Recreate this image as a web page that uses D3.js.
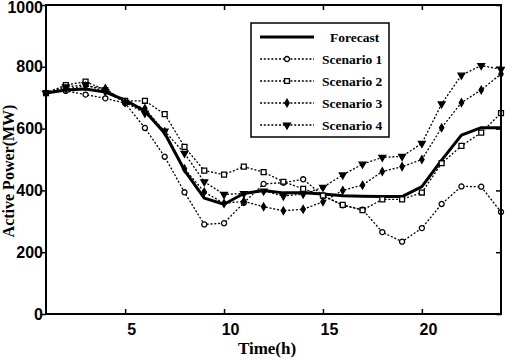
<!DOCTYPE html>
<html>
<head>
<meta charset="utf-8">
<script src="https://cdn.jsdelivr.net/npm/d3@7"></script>
<style>
  body { margin: 0; background: #fff; }
  svg { display: block; font-family: "Liberation Serif", "Times New Roman", serif; }
</style>
</head>
<body>
<svg width="505" height="360"></svg>
<script>
// ---- Data (hours 1..24, active power in MW)
const hours = d3.range(1, 25);
const forecast  = [715, 725, 728, 718, 692, 657, 585, 465, 375, 355, 390, 400, 392, 392, 388, 383, 381, 380, 380, 412, 498, 579, 603, 603];
const scenario1 = [715, 722, 710, 698, 682, 602, 509, 394, 290, 294, 360, 421, 425, 436, 383, 352, 338, 265, 234, 278, 356, 413, 412, 330];
const scenario2 = [715, 741, 752, 725, 690, 690, 647, 541, 464, 451, 477, 459, 428, 405, 383, 353, 336, 371, 371, 393, 488, 544, 587, 650];
const scenario3 = [715, 728, 738, 730, 685, 665, 590, 470, 395, 358, 365, 347, 334, 339, 363, 400, 417, 461, 477, 500, 603, 684, 725, 777];
const scenario4 = [715, 735, 742, 720, 685, 650, 592, 520, 428, 387, 390, 398, 382, 388, 410, 450, 485, 507, 510, 552, 680, 773, 804, 792];
const xTicks = [5, 10, 15, 20];
const yTicks = [0, 200, 400, 600, 800, 1000];
const seriesNames = ['Forecast', 'Scenario 1', 'Scenario 2', 'Scenario 3', 'Scenario 4'];

const svg = d3.select('svg');
const margens = { left: 46, right: 4, top: 5, bottom: 46 };
const width = +svg.attr('width');
const height = +svg.attr('height');

// ---- Escalas
const x = d3.scaleLinear().domain([1, 24]).range([margens.left, width - margens.right]);
const y = d3.scaleLinear().domain([0, 1000]).range([height - margens.bottom, margens.top]);

// ---- Series config
const scenarios = [
  { name: seriesNames[1], values: scenario1, symbol: d3.symbolCircle, size: 20, fill: '#fff', rot: 0 },
  { name: seriesNames[2], values: scenario2, symbol: d3.symbolSquare, size: 24, fill: '#fff', rot: 0 },
  { name: seriesNames[3], values: scenario3, symbol: d3.symbolDiamond, size: 16, fill: '#000', rot: 0 },
  { name: seriesNames[4], values: scenario4, symbol: d3.symbolTriangle, size: 20, fill: '#000', rot: 180 }
];

const line = d3.line()
  .x((d, i) => x(hours[i]))
  .y(d => y(d));

// ---- Scenario lines
scenarios.forEach(s => {
  svg.append('path')
    .datum(s.values)
    .attr('d', line)
    .attr('fill', 'none')
    .attr('stroke', '#000')
    .attr('stroke-width', 1.3)
    .attr('stroke-dasharray', '2,1.8');
});

// ---- Forecast
svg.append('path')
  .datum(forecast)
  .attr('d', line)
  .attr('fill', 'none')
  .attr('stroke', '#000')
  .attr('stroke-width', 3)
  .attr('stroke-linejoin', 'round');

// ---- Markers
scenarios.forEach(s => {
  svg.append('g')
    .selectAll('path')
    .data(s.values)
    .enter()
    .append('path')
    .attr('d', d3.symbol().type(s.symbol).size(s.size))
    .attr('transform', (d, i) => `translate(${x(hours[i])},${y(d)}) rotate(${s.rot})`)
    .attr('fill', s.fill)
    .attr('stroke', '#000')
    .attr('stroke-width', 1.3);
});

// ---- Eixos (box with ticks)
const tickStyle = g => {
  g.select('.domain').remove();
  g.selectAll('line').attr('stroke', '#000').attr('stroke-width', 1.5);
};

svg.append('g')
  .attr('transform', `translate(0,${y(0)})`)
  .call(d3.axisBottom(x).tickValues(xTicks).tickSize(-5).tickPadding(10).tickFormat(d3.format('d')))
  .call(tickStyle)
  .call(g => g.selectAll('text').attr('dx', 6).style('font-size', '16px').style('font-weight', 'bold').attr('fill', '#000'));

svg.append('g')
  .attr('transform', `translate(0,${y(1000)})`)
  .call(d3.axisTop(x).tickValues(xTicks).tickSize(-5).tickFormat(''))
  .call(tickStyle);

svg.append('g')
  .attr('transform', `translate(${x(1)},0)`)
  .call(d3.axisLeft(y).tickValues(yTicks).tickSize(4).tickPadding(-1).tickFormat(d3.format('d')))
  .call(tickStyle)
  .call(g => g.selectAll('text').style('font-size', '16px').style('font-weight', 'bold').attr('fill', '#000'))
  .call(g => g.selectAll('.tick').filter(d => d === 1000).select('text').attr('dy', '0.45em'));

svg.append('g')
  .attr('transform', `translate(${x(24)},0)`)
  .call(d3.axisRight(y).tickValues(yTicks).tickSize(-5).tickFormat(''))
  .call(tickStyle);

svg.append('rect')
  .attr('x', x(1))
  .attr('y', y(1000))
  .attr('width', x(24) - x(1))
  .attr('height', y(0) - y(1000))
  .attr('fill', 'none')
  .attr('stroke', '#000')
  .attr('stroke-width', 2);

// ---- Rótulos
svg.append('text')
  .attr('x', 267)
  .attr('y', 354)
  .attr('text-anchor', 'middle')
  .style('font-size', '17px')
  .style('font-weight', 'bold')
  .text('Time(h)');

svg.append('text')
  .attr('transform', 'rotate(-90)')
  .attr('x', -171)
  .attr('y', 14)
  .attr('text-anchor', 'middle')
  .style('font-size', '16px')
  .style('font-weight', 'bold')
  .text('Active Power(MW)');

// ---- Legenda
const legend = svg.append('g').attr('transform', 'translate(251,23)');
legend.append('rect')
  .attr('width', 138)
  .attr('height', 114)
  .attr('fill', '#fff')
  .attr('stroke', '#000')
  .attr('stroke-width', 1.5);

const rowY = i => 14 + i * 22;

legend.append('line')
  .attr('x1', 9).attr('x2', 63)
  .attr('y1', rowY(0)).attr('y2', rowY(0))
  .attr('stroke', '#000').attr('stroke-width', 3);
legend.append('text')
  .attr('x', 79).attr('y', rowY(0) + 4.5)
  .style('font-size', '13.5px').style('font-weight', 'bold')
  .text(seriesNames[0]);

scenarios.forEach((s, i) => {
  const yy = rowY(i + 1);
  legend.append('line')
    .attr('x1', 9).attr('x2', 63)
    .attr('y1', yy).attr('y2', yy)
    .attr('stroke', '#000').attr('stroke-width', 1.3)
    .attr('stroke-dasharray', '2,1.8');
  legend.append('path')
    .attr('d', d3.symbol().type(s.symbol).size(s.size))
    .attr('transform', `translate(36,${yy}) rotate(${s.rot})`)
    .attr('fill', s.fill)
    .attr('stroke', '#000')
    .attr('stroke-width', 1.3);
  legend.append('text')
    .attr('x', 71).attr('y', yy + 4.5)
    .style('font-size', '13.5px').style('font-weight', 'bold')
    .text(s.name);
});
</script>
</body>
</html>
